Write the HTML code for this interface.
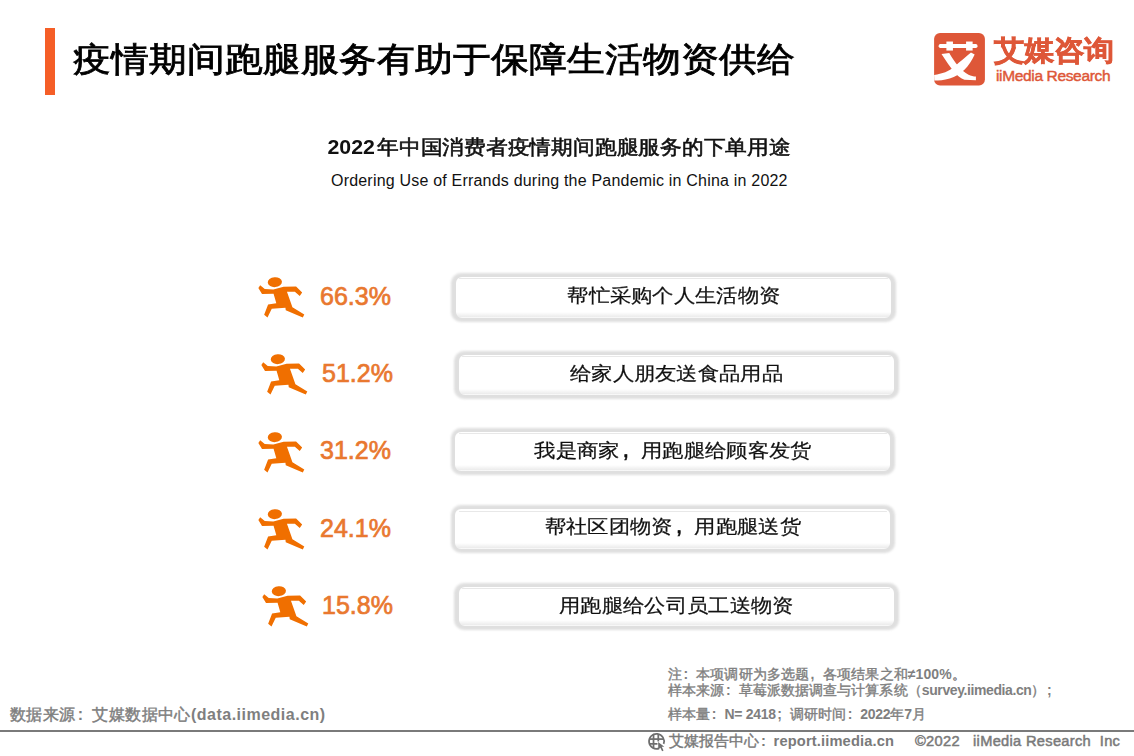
<!DOCTYPE html>
<html><head><meta charset="utf-8">
<style>
html,body{margin:0;padding:0;background:#fff;}
body{width:1134px;height:756px;position:relative;overflow:hidden;font-family:"Liberation Sans",sans-serif;}
.a{position:absolute;white-space:nowrap;line-height:1;}
#bar{left:45px;top:28px;width:10px;height:67px;background:#F55E27;}
#title{left:73px;top:40px;font-size:38px;font-weight:normal;-webkit-text-stroke:0.9px #000;color:#000;transform:scaleY(0.9);transform-origin:0 50%;}
#sub1{left:327.5px;top:137px;font-size:21.33px;font-weight:normal;-webkit-text-stroke:0.6px #111;color:#111;letter-spacing:0.78px;transform:scaleY(0.92);transform-origin:0 60%;}
.dg{letter-spacing:0;margin-right:2px;font-weight:bold;-webkit-text-stroke:0;}
#sub2{left:331px;top:172.7px;font-size:16px;color:#111;letter-spacing:0.2px;}
.pct{font-size:25px;font-weight:normal;-webkit-text-stroke:0.7px #E9782F;color:#E9782F;}
.cm{display:inline-block;width:21.63px;text-align:left;padding-left:3px;box-sizing:border-box;font-weight:normal;-webkit-text-stroke:0.6px #111;font-size:24px;line-height:0}
.bx{position:absolute}
.bx .sh{position:absolute;left:0;top:0;right:0;bottom:0;border-radius:10px;background:#dfdfdf;filter:blur(1px)}
.bx .wh{position:absolute;left:4.5px;right:5px;top:4.3px;bottom:3.6px;border-radius:6px;background:linear-gradient(#fff 0,#fff calc(100% - 6px),#ececec calc(100% - 1.2px),#fff 100%)}
.bx .ln{position:absolute;left:8px;right:8.5px;top:5.6px;height:1.3px;background:#e8e8e8;border-radius:1px}
.bt{position:absolute;white-space:nowrap;text-align:center;font-size:21.33px;color:#111;-webkit-text-stroke:0.25px #111;line-height:1;letter-spacing:0.3px;transform:scaleY(0.89);transform-origin:50% 45%;}
.run{position:absolute;width:54px;height:46px;}
#src{left:10px;top:707px;font-size:16px;letter-spacing:0.45px;font-weight:normal;-webkit-text-stroke:0.45px #7f7f7f;color:#7f7f7f;}
#src .lb{font-weight:bold;-webkit-text-stroke:0;letter-spacing:0.5px}
#hline{left:0;top:730px;width:1134px;height:2px;background:#7a7a7a;}
.note{font-size:14px;font-weight:normal;-webkit-text-stroke:0.4px #7f7f7f;color:#7f7f7f;left:668px;letter-spacing:0.1px;}
.note span{font-weight:bold;-webkit-text-stroke:0;}
.cp{display:inline-block;text-align:left;box-sizing:border-box;padding-left:1.5px;}
.lat{letter-spacing:-0.4px;}
.ln{letter-spacing:-0.3px;}
.foot{font-size:14.67px;font-weight:bold;color:#7a7a7a;top:734px;}
.fc{font-weight:normal;-webkit-text-stroke:0.4px #7a7a7a;}
</style></head><body>
<svg width="0" height="0" style="position:absolute">
<defs>
<g id="runner" fill="#F06F00">
<ellipse cx="326" cy="134" rx="117" ry="82" transform="rotate(-5 326 134)"/>
<path d="M85 185 L160 245 L300 255 L470 210 L675 205 L775 305 L735 360 L655 290 L525 290 L615 545 L810 665 L785 715 L505 595 L500 555 L275 570 L205 715 L150 670 L215 500 L350 480 L305 325 L115 330 L55 230 Z"/>
</g>
</defs>
</svg>
<div class="a" id="bar"></div>
<div class="a" id="title">疫情期间跑腿服务有助于保障生活物资供给</div>

<svg class="a" style="left:930px;top:28px" width="60" height="62" viewBox="0 0 732 756">
<rect x="50" y="60" width="620" height="640" rx="72" fill="#DE5738"/>
<g fill="#fff">
<rect x="105" y="195" width="475" height="50" rx="22"/>
<rect x="200" y="165" width="80" height="110"/>
<rect x="440" y="165" width="80" height="110"/>
<path d="M140 318 L235 305 C300 420 380 520 470 570 C500 585 530 590 560 592 L560 636 L420 632 C330 600 260 500 140 318 Z"/>
<path d="M500 300 L545 322 C480 470 380 570 240 615 C170 635 110 640 52 640 L50 572 C150 560 230 530 300 470 C370 410 430 360 500 300 Z"/>
</g></svg>
<div class="a" id="logocn" style="left:993.5px;top:37px;font-size:30px;font-weight:bold;-webkit-text-stroke:0.7px #DE5738;color:#DE5738;transform:scaleY(0.93);transform-origin:0 0;">艾媒咨询</div>
<div class="a" id="logoen" style="left:996px;top:68px;font-size:15.5px;font-weight:normal;-webkit-text-stroke:0.45px #DE5738;color:#DE5738;letter-spacing:-0.35px;">iiMedia Research</div>

<div class="a" id="sub1"><span class="dg">2022</span>年中国消费者疫情期间跑腿服务的下单用途</div>
<div class="a" id="sub2">Ordering Use of Errands during the Pandemic in China in 2022</div>

<svg class="run" style="left:255px;top:274px" viewBox="0 0 887 756"><use href="#runner"/></svg>
<svg class="run" style="left:258px;top:351px" viewBox="0 0 887 756"><use href="#runner"/></svg>
<svg class="run" style="left:255px;top:429px" viewBox="0 0 887 756"><use href="#runner"/></svg>
<svg class="run" style="left:255px;top:506px" viewBox="0 0 887 756"><use href="#runner"/></svg>
<svg class="run" style="left:258.5px;top:583px" viewBox="0 0 887 756"><use href="#runner"/></svg>

<div class="a pct" style="left:320px;top:284px">66.3%</div>
<div class="a pct" style="left:322px;top:361px">51.2%</div>
<div class="a pct" style="left:320px;top:438px">31.2%</div>
<div class="a pct" style="left:320px;top:516px">24.1%</div>
<div class="a pct" style="left:322px;top:593px">15.8%</div>

<div class="bx" style="left:451.3px;top:272.5px;width:445px;height:49px"><div class="sh"></div><div class="wh"></div><div class="ln"></div></div>
<div class="bt" style="left:451.3px;width:445px;top:286px">帮忙采购个人生活物资</div>
<div class="bx" style="left:454px;top:350.5px;width:445px;height:48.5px"><div class="sh"></div><div class="wh"></div><div class="ln"></div></div>
<div class="bt" style="left:454px;width:445px;top:364px">给家人朋友送食品用品</div>
<div class="bx" style="left:450.6px;top:427.5px;width:444.5px;height:47.5px"><div class="sh"></div><div class="wh"></div><div class="ln"></div></div>
<div class="bt" style="left:450.6px;width:444.5px;top:441px">我是商家<span class="cm">,</span>用跑腿给顾客发货</div>
<div class="bx" style="left:450.6px;top:505px;width:444.5px;height:47.5px"><div class="sh"></div><div class="wh"></div><div class="ln"></div></div>
<div class="bt" style="left:450.6px;width:444.5px;top:517px">帮社区团物资<span class="cm">,</span>用跑腿送货</div>
<div class="bx" style="left:454px;top:582.5px;width:444.6px;height:47px"><div class="sh"></div><div class="wh"></div><div class="ln"></div></div>
<div class="bt" style="left:454px;width:444.6px;top:596px">用跑腿给公司员工送物资</div>

<div class="a note" style="top:667px">注<span class="cp" style="width:14.1px">:</span>本项调研为多选题<span class="cp" style="width:14.1px">,</span>各项结果之和<span class="lat0">≠100%</span>。</div>
<div class="a note" style="top:683px">样本来源<span class="cp" style="width:14.1px">:</span>草莓派数据调查与计算系统（<span class="lat">survey.iimedia.cn</span>）<span class="cp" style="width:14.1px">;</span></div>
<div class="a note" style="top:707px">样本量<span class="cp" style="width:14.1px">:</span><span class="ln">N= 2418</span><span class="cp" style="width:14.1px">;</span>调研时间<span class="cp" style="width:14.1px">:</span><span class="ln">2022</span>年<span class="ln">7</span>月</div>
<div class="a" id="src">数据来源<span class="lb" style="display:inline-block;width:16.4px;padding-left:2px;box-sizing:border-box">:</span>艾媒数据中心<span class="lb">(data.iimedia.cn)</span></div>
<div class="a" id="hline"></div>
<svg class="a" style="left:644px;top:731px" width="26" height="24" viewBox="0 0 819 756">
<g fill="none" stroke="#6e6e6e" stroke-width="55">
<path d="M476 548 A237 237 0 1 1 618 406"/>
<line x1="165" y1="255" x2="625" y2="255"/>
<line x1="165" y1="405" x2="425" y2="405"/>
<line x1="300" y1="110" x2="300" y2="545"/>
<line x1="450" y1="95" x2="450" y2="330"/>
</g>
<path d="M445 345 L450 585 L515 525 L570 640 L615 615 L560 500 L640 495 Z" fill="#6e6e6e"/>
</svg>
<div class="a foot" style="left:669px"><span class="fc">艾媒报告中心</span><span style="display:inline-block;width:14.6px;padding-left:2px;box-sizing:border-box">:</span><span style="letter-spacing:0.14px">report.iimedia.cn</span></div>
<div class="a foot" style="left:915px;font-weight:normal;-webkit-text-stroke:0.5px #7a7a7a;letter-spacing:0.3px">©2022&nbsp;&nbsp;&nbsp;iiMedia Research&nbsp;&nbsp;Inc</div>
</body></html>
